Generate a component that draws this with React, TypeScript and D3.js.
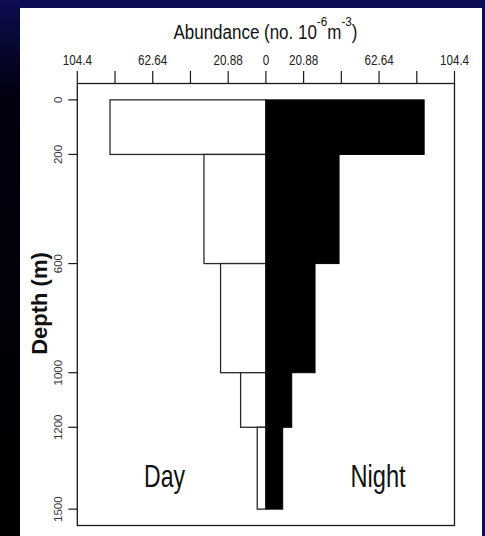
import React from "react";
import * as d3 from "d3";

// Depth intervals (m) and mean abundance (no. 10^-6 m^-3) per interval
const depthTop = [0, 200, 600, 1000, 1200];
const depthBottom = [200, 600, 1000, 1200, 1500];
const dayAbundance = [86.3, 34.3, 25.1, 14.0, 4.8];
const nightAbundance = [87.6, 40.5, 27.2, 14.3, 9.3];

// Axis ticks
const depthTicks = [0, 200, 600, 1000, 1200, 1500];
const abundanceTicks = [-104.4, -83.52, -62.64, -41.76, -20.88, 0, 20.88, 41.76, 62.64, 83.52, 104.4];
const abundanceLabelled = [-104.4, -62.64, -20.88, 0, 20.88, 62.64, 104.4];

const W = 485;
const H = 536;
const FONT = "'Liberation Sans', Arial, Helvetica, sans-serif";

const box = { left: 77.3, right: 454.5, top: 83.5, bottom: 525.5 };

export default function App() {
  // Day plotted to the left of zero, night to the right
  const x = d3.scaleLinear().domain([-104.4, 104.4]).range([box.left, box.right]);
  // R-style 4% padding around the 0–1500 m depth range
  const y = d3.scaleLinear().domain([-60, 1560]).range([box.top, box.bottom]);

  const intervals = d3.range(depthTop.length);

  return (
    <svg
      width={W}
      height={H}
      style={{ position: "absolute", left: 0, top: 0, display: "block" }}
      fontFamily={FONT}
    >
      <defs>
        <linearGradient id="edgeShade" x1="0" y1="0" x2="0" y2="1">
          <stop offset="0" stopColor="#0c0c50" />
          <stop offset="0.18" stopColor="#010110" />
          <stop offset="1" stopColor="#000000" />
        </linearGradient>
      </defs>

      {/* slide background */}
      <rect x={0} y={0} width={W} height={H} fill="#0c0c55" />
      <rect x={0} y={0} width={20} height={H} fill="url(#edgeShade)" />

      {/* white figure panel */}
      <rect x={20} y={8} width={462} height={H - 8} fill="#ffffff" />

      {/* day bars */}
      {intervals.map((i) => (
        <rect
          key={"d" + i}
          x={x(-dayAbundance[i])}
          y={y(depthTop[i])}
          width={x(0) - x(-dayAbundance[i])}
          height={y(depthBottom[i]) - y(depthTop[i])}
          fill="#ffffff"
          stroke="#2a2a2a"
          strokeWidth={1.3}
        />
      ))}

      {/* night bars */}
      {intervals.map((i) => (
        <rect
          key={"n" + i}
          x={x(0)}
          y={y(depthTop[i])}
          width={x(nightAbundance[i]) - x(0)}
          height={y(depthBottom[i]) - y(depthTop[i])}
          fill="#000000"
          stroke="#000000"
          strokeWidth={1}
        />
      ))}

      {/* plot frame */}
      <rect
        x={box.left}
        y={box.top}
        width={box.right - box.left}
        height={box.bottom - box.top}
        fill="none"
        stroke="#1a1a1a"
        strokeWidth={1.3}
      />

      {/* top axis */}
      {abundanceTicks.map((v, i) => (
        <line
          key={"xt" + i}
          x1={x(v)}
          x2={x(v)}
          y1={box.top}
          y2={box.top - 12.5}
          stroke="#1a1a1a"
          strokeWidth={1.2}
        />
      ))}
      {abundanceLabelled.map((v, i) => (
        <text
          key={"xl" + i}
          transform={`translate(${x(v)},64.5) scale(0.78,1)`}
          textAnchor="middle"
          fontSize={15}
          fill="#222"
        >
          {String(Math.abs(v))}
        </text>
      ))}

      {/* axis title */}
      <text
        transform="translate(265.5,38.5) scale(0.87,1)"
        textAnchor="middle"
        fontSize={19.5}
        fill="#111"
      >
        Abundance (no. 10
        <tspan fontSize={13.5} dy={-12.5}>-6</tspan>
        <tspan fontSize={19.5} dy={12.5}>m</tspan>
        <tspan fontSize={13.5} dy={-12.5}>-3</tspan>
        <tspan fontSize={19.5} dy={12.5}>)</tspan>
      </text>

      {/* left axis */}
      {depthTicks.map((d) => (
        <g key={"yt" + d}>
          <line
            x1={box.left - 9}
            x2={box.left}
            y1={y(d)}
            y2={y(d)}
            stroke="#1a1a1a"
            strokeWidth={1.2}
          />
          <text
            transform={`translate(62,${y(d)}) rotate(-90)`}
            textAnchor="middle"
            fontSize={11.5}
            fill="#333"
          >
            {d}
          </text>
        </g>
      ))}

      <text
        transform="translate(46.5,303.5) rotate(-90)"
        textAnchor="middle"
        fontSize={22}
        fontWeight={700}
        fontFamily="'Liberation Sans', Arial, sans-serif"
        fill="#111"
      >
        Depth (m)
      </text>

      {/* period labels */}
      <text
        transform="translate(164.5,486.7) scale(0.72,1)"
        textAnchor="middle"
        fontSize={32}
        fill="#111"
      >
        Day
      </text>
      <text
        transform="translate(378,486.7) scale(0.74,1)"
        textAnchor="middle"
        fontSize={32}
        fill="#111"
      >
        Night
      </text>
    </svg>
  );
}
